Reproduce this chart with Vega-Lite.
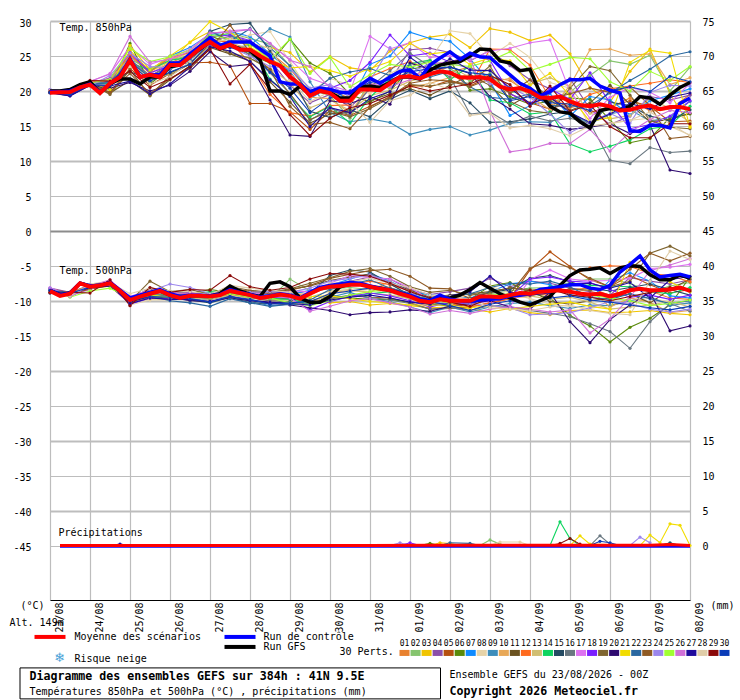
{"$schema":"https://vega.github.io/schema/vega-lite/v6.json","autosize":"none","width":640,"height":579,"padding":{"left":50,"top":21,"right":50,"bottom":100},"background":"white",
"config":{"view":{"stroke":null},"axis":{"labelFont":"DejaVu Sans Mono","labelFontSize":10,"labelColor":"#000"},"text":{"font":"DejaVu Sans Mono","fontSize":10,"align":"left","baseline":"middle","color":"#000"},"line":{"strokeWidth":1}},
"datasets":{
"m850":[
{"d":0,"01":19.9,"02":20,"03":19.8,"04":20.1,"05":19.8,"06":19.9,"07":20,"08":19.8,"09":20,"10":19.9,"11":20,"12":19.8,"13":19.9,"14":20.2,"15":19.8,"16":20,"17":20.2,"18":20.1,"19":19.9,"20":19.7,"21":20,"22":19.9,"23":19.8,"24":20.2,"25":20,"26":20.1,"27":19.8,"28":20,"29":19.9,"30":19.8},
{"d":0.5,"01":19.9,"02":20,"03":20.1,"04":19.7,"05":19.8,"06":20,"07":19.9,"08":20.2,"09":19.8,"10":20,"11":19.6,"12":19.9,"13":20.1,"14":19.8,"15":19.5,"16":19.8,"17":20,"18":19.4,"19":19.8,"20":19.3,"21":20,"22":19.7,"23":19.9,"24":20.1,"25":20.2,"26":19.9,"27":19.3,"28":20,"29":19.8,"30":19.5},
{"d":1,"01":20.9,"02":20.8,"03":21,"04":21.1,"05":20.7,"06":20.9,"07":21,"08":20.6,"09":20.9,"10":21,"11":20.8,"12":21.2,"13":20.7,"14":21,"15":20.8,"16":20.9,"17":21.3,"18":21,"19":21.1,"20":20.8,"21":21.2,"22":20.9,"23":21,"24":20.7,"25":21.1,"26":21.4,"27":20.8,"28":20.9,"29":21.5,"30":20.9},
{"d":1.5,"01":21.5,"02":21,"03":20.5,"04":21.2,"05":19.8,"06":20.2,"07":21.4,"08":20.8,"09":21,"10":21.6,"11":19.7,"12":21.8,"13":20.6,"14":21.1,"15":20.9,"16":21.3,"17":22.5,"18":21.8,"19":19.5,"20":20.4,"21":20.2,"22":21.2,"23":19.8,"24":22.2,"25":21.7,"26":22.4,"27":20.7,"28":20.9,"29":21.4,"30":20.8},
{"d":2,"01":25,"02":24.5,"03":25.8,"04":24.2,"05":23.2,"06":26.8,"07":24.9,"08":23.5,"09":24.3,"10":24.8,"11":21.5,"12":25.2,"13":23.9,"14":24,"15":22.8,"16":24.5,"17":26.3,"18":25.5,"19":23,"20":21.2,"21":26.5,"22":24.1,"23":22.5,"24":25.4,"25":26.1,"26":27.8,"27":21.4,"28":23.6,"29":22.8,"30":23.9},
{"d":2.5,"01":22.5,"02":23.2,"03":22.8,"04":22.1,"05":20.8,"06":21,"07":22.9,"08":22.3,"09":21.8,"10":23.1,"11":19.4,"12":22.7,"13":21.7,"14":23,"15":21.4,"16":22.2,"17":23.8,"18":22.6,"19":19.3,"20":20,"21":23,"22":22,"23":19.6,"24":23.5,"25":24.2,"26":24.1,"27":19.6,"28":21,"29":20.5,"30":21.5},
{"d":3,"01":24,"02":24.5,"03":24.2,"04":23.8,"05":22.5,"06":23.2,"07":25,"08":24.6,"09":23.5,"10":24.3,"11":21.6,"12":24.8,"13":22.4,"14":24.4,"15":22.6,"16":23.4,"17":24.7,"18":23.6,"19":22.2,"20":20.8,"21":25,"22":23.1,"23":21.8,"24":23.3,"25":24.9,"26":24.5,"27":21,"28":22,"29":21.7,"30":22.7},
{"d":3.5,"01":25.2,"02":25,"03":27,"04":24.9,"05":24,"06":25.4,"07":26.2,"08":25.3,"09":24.5,"10":25.6,"11":23.6,"12":25.5,"13":23.9,"14":24.8,"15":23.8,"16":24.1,"17":26,"18":24.7,"19":23.9,"20":22.8,"21":26.9,"22":24.4,"23":23.2,"24":25,"25":25.8,"26":25.7,"27":23.4,"28":24.2,"29":23.5,"30":23.8},
{"d":4,"01":26.7,"02":27.6,"03":28.5,"04":27.2,"05":24.1,"06":27.9,"07":28.1,"08":27.5,"09":27,"10":27.4,"11":26.2,"12":27.2,"13":26.5,"14":28,"15":28.5,"16":27.3,"17":28.2,"18":27.7,"19":26.7,"20":25.6,"21":29.9,"22":28.6,"23":26,"24":26.6,"25":28,"26":28.3,"27":26.3,"28":26.9,"29":26,"30":27.1},
{"d":4.5,"01":27.5,"02":28.3,"03":27.3,"04":27.8,"05":23.6,"06":26.8,"07":28.5,"08":27,"09":26.2,"10":26.9,"11":25.3,"12":27,"13":25.6,"14":28,"15":29.5,"16":26.4,"17":28.6,"18":28,"19":25.4,"20":23.5,"21":28.4,"22":27.1,"23":29.4,"24":26.3,"25":27.4,"26":28.4,"27":25.7,"28":27.4,"29":21,"30":26.2},
{"d":5,"01":27,"02":27.5,"03":26.5,"04":27.1,"05":18.2,"06":25.2,"07":27.8,"08":28,"09":26.5,"10":26,"11":24.3,"12":24,"13":24.6,"14":26.5,"15":29.7,"16":25.2,"17":28.8,"18":27.2,"19":24.7,"20":23.8,"21":26.3,"22":28.9,"23":25.5,"24":25,"25":26.7,"26":28.8,"27":24.2,"28":26.9,"29":23.8,"30":25.6},
{"d":5.5,"01":25.5,"02":26.7,"03":26.2,"04":24.4,"05":18.2,"06":24,"07":25.3,"08":28.5,"09":28.9,"10":24.8,"11":21.3,"12":19.5,"13":23.2,"14":21.7,"15":25.7,"16":22.6,"17":26.8,"18":24.9,"19":23.1,"20":18.7,"21":24.5,"22":26.2,"23":23.1,"24":23.5,"25":24.5,"26":26.8,"27":21.6,"28":26.1,"29":20.2,"30":22.7},
{"d":6,"01":23.2,"02":23.6,"03":25.5,"04":20.8,"05":17,"06":27.4,"07":22.8,"08":24.2,"09":27.7,"10":22.6,"11":18.4,"12":16.9,"13":21.2,"14":19.2,"15":22.4,"16":19.6,"17":24.5,"18":21.7,"19":19.6,"20":13.7,"21":23.3,"22":23.6,"23":17.8,"24":23.2,"25":27.4,"26":24.4,"27":19.2,"28":21.6,"29":16.6,"30":20.4},
{"d":6.5,"01":19.6,"02":20.2,"03":22.7,"04":18.3,"05":14.5,"06":24,"07":18.9,"08":19.8,"09":21.3,"10":19.1,"11":15.4,"12":16.4,"13":17.6,"14":16.3,"15":17.1,"16":15.8,"17":21.8,"18":19.9,"19":15.9,"20":13.5,"21":23.5,"22":19.5,"23":15.2,"24":20.4,"25":22.5,"26":23.5,"27":14.9,"28":18.5,"29":13.6,"30":16.9},
{"d":7,"01":20,"02":19.3,"03":24.9,"04":19.5,"05":17.2,"06":22.5,"07":20.6,"08":21.8,"09":16.9,"10":18.9,"11":16.7,"12":17.9,"13":18.7,"14":17.8,"15":16.2,"16":17.5,"17":20.8,"18":20.4,"19":17.1,"20":18.6,"21":22.9,"22":21.8,"23":15.5,"24":20.9,"25":24.8,"26":20.4,"27":17.6,"28":19.9,"29":16.1,"30":19},
{"d":7.5,"01":19,"02":16.1,"03":23.3,"04":17.7,"05":16.5,"06":19.5,"07":18.4,"08":20.8,"09":15.6,"10":16.8,"11":17,"12":18,"13":17.2,"14":15.4,"15":17.3,"16":16.6,"17":19.9,"18":21.5,"19":16.3,"20":18.2,"21":22.1,"22":22.7,"23":14.6,"24":19.1,"25":20.6,"26":19.5,"27":16.9,"28":18.4,"29":17.6,"30":20},
{"d":8,"01":20.4,"02":21.6,"03":22.9,"04":20.2,"05":17.8,"06":18.4,"07":23.8,"08":19.6,"09":16,"10":20.9,"11":18.6,"12":22,"13":19.3,"14":19.1,"15":16.3,"16":20.5,"17":27.8,"18":24.1,"19":17.5,"20":19.2,"21":23.2,"22":23.2,"23":17.7,"24":21.4,"25":22.3,"26":21,"27":18.9,"28":15.5,"29":18.2,"30":21.2},
{"d":8.5,"01":20.8,"02":20.3,"03":25.7,"04":21.4,"05":19.1,"06":20,"07":25,"08":22.5,"09":15.5,"10":21.7,"11":19.6,"12":23.2,"13":20.1,"14":21.7,"15":18.8,"16":22.9,"17":26,"18":28,"19":19,"20":18.1,"21":24.2,"22":22.2,"23":19.2,"24":26.2,"25":23.8,"26":20.6,"27":19.9,"28":18.6,"29":19.4,"30":21.6},
{"d":9,"01":22.5,"02":23.4,"03":26.9,"04":25.9,"05":20.8,"06":23.1,"07":28.4,"08":23.8,"09":13.8,"10":20.5,"11":20.3,"12":24.2,"13":21.4,"14":23.9,"15":20.1,"16":25.4,"17":26.9,"18":25,"19":20.9,"20":24,"21":26.8,"22":23.6,"23":21.1,"24":22.6,"25":23.4,"26":21.6,"27":24.8,"28":19.4,"29":20.7,"30":22.7},
{"d":9.5,"01":22.3,"02":24.3,"03":27.7,"04":26.1,"05":20.6,"06":23.6,"07":27.5,"08":24.5,"09":14.5,"10":21.1,"11":19.4,"12":22.9,"13":22.1,"14":24.4,"15":18.9,"16":23.5,"17":24.8,"18":25.4,"19":20.7,"20":23,"21":25.3,"22":22,"23":21.6,"24":23.9,"25":24.1,"26":23.8,"27":22.8,"28":21.2,"29":20,"30":23.2},
{"d":10,"01":22.7,"02":23.2,"03":28.1,"04":25.5,"05":21.5,"06":24.3,"07":27.1,"08":28.6,"09":14.9,"10":21.9,"11":20.8,"12":22.5,"13":23.6,"14":21.6,"15":20,"16":22,"17":25,"18":24.1,"19":21.2,"20":23.4,"21":25.6,"22":22.8,"23":21.4,"24":24,"25":23.8,"26":24.2,"27":24.6,"28":20.2,"29":20.5,"30":23.4},
{"d":10.5,"01":23.4,"02":21.4,"03":26.2,"04":24.3,"05":20.7,"06":20.1,"07":24.6,"08":28.2,"09":13.7,"10":22.3,"11":22.2,"12":20.7,"13":21.9,"14":23.6,"15":18.3,"16":16.7,"17":24.4,"18":25.1,"19":21.1,"20":22.5,"21":23.8,"22":20.6,"23":20.6,"24":23.2,"25":23.5,"26":24.8,"27":23,"28":16.5,"29":21,"30":22.6},
{"d":11,"01":22,"02":22.5,"03":28.9,"04":25.8,"05":22.1,"06":20.3,"07":21.3,"08":24.9,"09":14.4,"10":21.2,"11":20.8,"12":26,"13":23.1,"14":18.7,"15":15.5,"16":17,"17":25.7,"18":24.4,"19":23.6,"20":19.2,"21":24.7,"22":19.1,"23":21.7,"24":21,"25":24.3,"26":17.1,"27":22.9,"28":16.8,"29":22.2,"30":22.3},
{"d":11.5,"01":21.5,"02":19.7,"03":28.4,"04":23.6,"05":19.6,"06":19.2,"07":16.5,"08":26.8,"09":15.4,"10":21.8,"11":17.9,"12":25.9,"13":20.2,"14":18.3,"15":15.6,"16":15.3,"17":26.1,"18":19.6,"19":18.5,"20":17.4,"21":24.3,"22":18.8,"23":19.7,"24":20.5,"25":25.6,"26":11.3,"27":20.4,"28":14.7,"29":20.9,"30":18.6},
{"d":12,"01":19.6,"02":20.4,"03":27.2,"04":21.6,"05":18.3,"06":18.1,"07":17.9,"08":24.8,"09":15.6,"10":19.2,"11":19.5,"12":23.7,"13":21,"14":16.7,"15":16,"16":16.4,"17":26.9,"18":18.2,"19":17.2,"20":15.3,"21":20.8,"22":19.6,"23":21.6,"24":19.1,"25":22.9,"26":11.7,"27":18.2,"28":15.1,"29":17.8,"30":19.2},
{"d":12.5,"01":18.1,"02":18.9,"03":28,"04":20.3,"05":17.4,"06":18.5,"07":19.6,"08":21.2,"09":15.5,"10":17.3,"11":18.6,"12":19,"13":21.9,"14":17,"15":16.7,"16":15.7,"17":27.3,"18":20.3,"19":16.8,"20":15.1,"21":22.5,"22":17.9,"23":18.8,"24":16.7,"25":23.8,"26":12.5,"27":19.1,"28":14.6,"29":20.7,"30":18.3},
{"d":13,"01":17.6,"02":19.8,"03":25.3,"04":21.8,"05":18.4,"06":19,"07":16.4,"08":20.4,"09":16.9,"10":20.8,"11":17.2,"12":17.7,"13":20.6,"14":12.4,"15":17.1,"16":16.1,"17":19.9,"18":18.8,"19":20.4,"20":14.5,"21":19.3,"22":17.8,"23":19.6,"24":14,"25":24.8,"26":12.5,"27":16.9,"28":13.6,"29":17.1,"30":18.1},
{"d":13.5,"01":18.2,"02":22.2,"03":20.5,"04":17.4,"05":16.9,"06":18.8,"07":19.2,"08":14.9,"09":15.3,"10":25.9,"11":18.3,"12":19.5,"13":16.8,"14":11.3,"15":14.8,"16":15.4,"17":16.1,"18":22.6,"19":23.5,"20":14.8,"21":15.6,"22":17.9,"23":20.4,"24":15.6,"25":24.6,"26":14.5,"27":15.5,"28":15,"29":18,"30":17.2},
{"d":14,"01":17.6,"02":24.3,"03":18.4,"04":15.2,"05":17.8,"06":15.9,"07":18.7,"08":15.4,"09":16.7,"10":26,"11":20.8,"12":20.3,"13":16,"14":12.1,"15":18.4,"16":10.1,"17":19.1,"18":18.3,"19":22.9,"20":15.3,"21":16.2,"22":19.7,"23":19.8,"24":16.8,"25":21.3,"26":11.4,"27":16.7,"28":15.3,"29":14.9,"30":20},
{"d":14.5,"01":19,"02":23.8,"03":22.8,"04":16.4,"05":18.6,"06":12.6,"07":16.6,"08":15.8,"09":17.3,"10":25.1,"11":18.1,"12":20.7,"13":16.5,"14":13,"15":17.9,"16":9.6,"17":20.5,"18":14.6,"19":19.4,"20":13.9,"21":24.1,"22":21.5,"23":20.6,"24":15.4,"25":20,"26":14.1,"27":18.2,"28":15.8,"29":13.3,"30":20.6},
{"d":15,"01":17.1,"02":25.1,"03":26,"04":19.2,"05":17.8,"06":13.2,"07":18.6,"08":16.1,"09":15.7,"10":25.3,"11":15.6,"12":21.1,"13":18.9,"14":14.6,"15":16.4,"16":11.9,"17":19.8,"18":15.2,"19":15.8,"20":15.1,"21":25.8,"22":23.1,"23":17.9,"24":19.8,"25":22.8,"26":15.9,"27":17.4,"28":17,"29":13.3,"30":19.9},
{"d":15.5,"01":17.4,"02":20,"03":19.6,"04":18.7,"05":15.6,"06":16.2,"07":19.4,"08":14.9,"09":16.2,"10":20.9,"11":15.9,"12":21.6,"13":17.5,"14":15,"15":15.7,"16":11.2,"17":18.3,"18":16.4,"19":14.8,"20":8.7,"21":25.4,"22":25,"23":13.2,"24":20.8,"25":21.5,"26":17.2,"27":19.1,"28":15.3,"29":15.3,"30":22.1},
{"d":16,"01":19.5,"02":23.4,"03":15,"04":19.4,"05":15.7,"06":16.7,"07":20.3,"08":13.7,"09":18.5,"10":21.9,"11":16.8,"12":21.2,"13":15.5,"14":17.8,"15":17.3,"16":11.4,"17":21.1,"18":18.6,"19":14.6,"20":8.2,"21":14.8,"22":25.6,"23":13.5,"24":20.7,"25":23.5,"26":16.9,"27":19.7,"28":13.6,"29":15.3,"30":21.3}
],
"m500":[
{"d":0,"01":-8.7,"02":-8.5,"03":-8.4,"04":-8.2,"05":-8.8,"06":-8.6,"07":-8.4,"08":-8.9,"09":-8.6,"10":-8.5,"11":-8.7,"12":-8.3,"13":-8.8,"14":-8.5,"15":-8.6,"16":-8.7,"17":-8.1,"18":-8.3,"19":-8.6,"20":-8.9,"21":-8.5,"22":-8.4,"23":-8.8,"24":-8.2,"25":-8.5,"26":-8.4,"27":-8.6,"28":-8.7,"29":-8.8,"30":-8.5},
{"d":0.5,"01":-9,"02":-9.2,"03":-8.9,"04":-8.8,"05":-9,"06":-9.1,"07":-8.9,"08":-9.3,"09":-9,"10":-9.2,"11":-8.8,"12":-8.9,"13":-9.1,"14":-8.9,"15":-9.1,"16":-9,"17":-9.3,"18":-9.4,"19":-8.9,"20":-9.2,"21":-9,"22":-8.9,"23":-9.1,"24":-9.2,"25":-9.5,"26":-9.4,"27":-9,"28":-9.3,"29":-8.8,"30":-9},
{"d":1,"01":-8.1,"02":-7.9,"03":-8,"04":-7.8,"05":-8.3,"06":-8,"07":-8.2,"08":-7.6,"09":-8,"10":-7.9,"11":-8.3,"12":-7.8,"13":-8.1,"14":-8,"15":-8.2,"16":-7.9,"17":-8.4,"18":-7.9,"19":-8,"20":-8.1,"21":-7.8,"22":-8.1,"23":-8.3,"24":-7.7,"25":-8.6,"26":-7.9,"27":-8.1,"28":-7.8,"29":-8.9,"30":-8},
{"d":1.5,"01":-7.6,"02":-7.4,"03":-7.5,"04":-7.3,"05":-7.9,"06":-7.3,"07":-7.7,"08":-7.2,"09":-7.6,"10":-7.5,"11":-7.8,"12":-7.3,"13":-7.5,"14":-7.7,"15":-7.6,"16":-7.4,"17":-7.1,"18":-7.8,"19":-7.4,"20":-7.9,"21":-7.6,"22":-7.5,"23":-7.2,"24":-7.7,"25":-8.2,"26":-7,"27":-7.6,"28":-7.4,"29":-7,"30":-7.5},
{"d":2,"01":-9.8,"02":-9.6,"03":-10.1,"04":-9.5,"05":-10.4,"06":-9.7,"07":-10.1,"08":-10.6,"09":-9.9,"10":-9.6,"11":-9.8,"12":-10.2,"13":-10.3,"14":-9.7,"15":-10,"16":-9.5,"17":-9.4,"18":-10.5,"19":-10.1,"20":-10.2,"21":-9.7,"22":-9.9,"23":-10.6,"24":-10,"25":-9.6,"26":-9.8,"27":-10.4,"28":-9,"29":-10.7,"30":-10},
{"d":2.5,"01":-8.9,"02":-9.2,"03":-9.4,"04":-8.7,"05":-9.5,"06":-8.4,"07":-9.3,"08":-9.9,"09":-9.1,"10":-9.2,"11":-8.2,"12":-8.9,"13":-9.7,"14":-9,"15":-9.3,"16":-9.1,"17":-8.4,"18":-9.6,"19":-7.2,"20":-9.4,"21":-9.1,"22":-9.3,"23":-8.4,"24":-8.6,"25":-9.3,"26":-8.8,"27":-9.6,"28":-8.2,"29":-8.1,"30":-9.4},
{"d":3,"01":-9.1,"02":-9.4,"03":-9.7,"04":-9,"05":-9.6,"06":-8.7,"07":-9.5,"08":-9.9,"09":-9.3,"10":-9.4,"11":-9,"12":-9.2,"13":-9.8,"14":-9.1,"15":-9.6,"16":-9.3,"17":-8.8,"18":-9.7,"19":-8.7,"20":-9.5,"21":-9.6,"22":-10,"23":-9.1,"24":-7.6,"25":-9.5,"26":-9,"27":-9.8,"28":-8.6,"29":-8.8,"30":-9.5},
{"d":3.5,"01":-9,"02":-9.3,"03":-9.1,"04":-8.8,"05":-9.4,"06":-9,"07":-9.3,"08":-9.7,"09":-9.7,"10":-9.1,"11":-9.2,"12":-9.5,"13":-9.6,"14":-9.2,"15":-9.9,"16":-9.4,"17":-9,"18":-8.8,"19":-8.4,"20":-10,"21":-9.2,"22":-10.3,"23":-9,"24":-8.1,"25":-9.4,"26":-8.9,"27":-9.8,"28":-8.7,"29":-8.4,"30":-9.7},
{"d":4,"01":-9.2,"02":-9.5,"03":-9.4,"04":-9.1,"05":-9.8,"06":-8.4,"07":-9.6,"08":-10,"09":-9.8,"10":-9.3,"11":-9.4,"12":-9.6,"13":-9.8,"14":-8.7,"15":-10.3,"16":-9.7,"17":-9.3,"18":-9.2,"19":-9.1,"20":-10.1,"21":-9.5,"22":-10.8,"23":-9.3,"24":-9,"25":-9.6,"26":-9.2,"27":-10.1,"28":-9.1,"29":-8.5,"30":-10.2},
{"d":4.5,"01":-8.6,"02":-9,"03":-8.7,"04":-8.5,"05":-9.1,"06":-8.8,"07":-8.8,"08":-9.5,"09":-9.3,"10":-8.6,"11":-8.4,"12":-9,"13":-9.2,"14":-8.9,"15":-9.5,"16":-8.9,"17":-8.6,"18":-8.7,"19":-8,"20":-9.6,"21":-8.8,"22":-9.7,"23":-8.3,"24":-8.5,"25":-9,"26":-8.6,"27":-9.4,"28":-7.8,"29":-6.4,"30":-9.4},
{"d":5,"01":-9.1,"02":-9.4,"03":-9.2,"04":-9,"05":-9.6,"06":-9.3,"07":-9,"08":-9.8,"09":-10.1,"10":-9.1,"11":-8.8,"12":-9.3,"13":-9.6,"14":-9.4,"15":-10.3,"16":-9.5,"17":-8.9,"18":-9.4,"19":-8.5,"20":-10,"21":-9.2,"22":-10.3,"23":-8.6,"24":-8.8,"25":-9.5,"26":-9.1,"27":-9.9,"28":-8.2,"29":-8,"30":-9.8},
{"d":5.5,"01":-9.3,"02":-9.7,"03":-9.5,"04":-9.2,"05":-10,"06":-9.6,"07":-9.2,"08":-10.2,"09":-10.7,"10":-9.3,"11":-9,"12":-9.5,"13":-9.8,"14":-9.7,"15":-10.4,"16":-10,"17":-9,"18":-9.5,"19":-8.8,"20":-10.3,"21":-9.4,"22":-10.8,"23":-9,"24":-8.7,"25":-9.6,"26":-9.4,"27":-10.2,"28":-8.5,"29":-8.5,"30":-10.5},
{"d":6,"01":-9.1,"02":-6.9,"03":-9.4,"04":-9,"05":-10.1,"06":-9.7,"07":-9.1,"08":-10,"09":-10.5,"10":-9.5,"11":-8.4,"12":-9.2,"13":-9.9,"14":-9.8,"15":-10.1,"16":-10.2,"17":-8.6,"18":-9.6,"19":-8.3,"20":-10.6,"21":-9.2,"22":-10.5,"23":-8.5,"24":-8.8,"25":-10.3,"26":-9.6,"27":-10.4,"28":-8.8,"29":-8.1,"30":-10.3},
{"d":6.5,"01":-9,"02":-8.6,"03":-9.6,"04":-8.6,"05":-10.3,"06":-10.2,"07":-8.5,"08":-10.4,"09":-10.6,"10":-10.2,"11":-7.9,"12":-9.1,"13":-9.5,"14":-10.5,"15":-8.9,"16":-10.5,"17":-8.7,"18":-11.3,"19":-7.5,"20":-11,"21":-9.4,"22":-9.9,"23":-7.8,"24":-8.2,"25":-10.7,"26":-11.5,"27":-10.6,"28":-9.2,"29":-6.9,"30":-10.1},
{"d":7,"01":-7.7,"02":-8.3,"03":-10.3,"04":-7.9,"05":-9.7,"06":-9.2,"07":-7.8,"08":-9,"09":-9.5,"10":-8.9,"11":-7.1,"12":-8,"13":-8.6,"14":-10,"15":-6.4,"16":-9.7,"17":-7.5,"18":-10.1,"19":-6.7,"20":-11.4,"21":-9.3,"22":-8.4,"23":-6.8,"24":-7.2,"25":-10,"26":-10.8,"27":-9.9,"28":-7.5,"29":-6.1,"30":-9},
{"d":7.5,"01":-7.5,"02":-8.1,"03":-10.1,"04":-7.2,"05":-9.3,"06":-9.6,"07":-6.9,"08":-8.7,"09":-8.8,"10":-8.5,"11":-6.6,"12":-7.7,"13":-8.4,"14":-9.4,"15":-5.6,"16":-9.2,"17":-6.4,"18":-9.4,"19":-5.8,"20":-12,"21":-9.7,"22":-7.7,"23":-6.2,"24":-6.8,"25":-9.2,"26":-10,"27":-9.5,"28":-7.3,"29":-6.2,"30":-8.6},
{"d":8,"01":-7.8,"02":-8.4,"03":-10.6,"04":-6.6,"05":-9.5,"06":-9.8,"07":-6.1,"08":-8.4,"09":-9.7,"10":-8.8,"11":-6.2,"12":-7.2,"13":-8.9,"14":-9,"15":-5.9,"16":-9.5,"17":-6.7,"18":-8.9,"19":-5.4,"20":-11.7,"21":-10.1,"22":-7,"23":-5.7,"24":-6.3,"25":-8.7,"26":-9.7,"27":-9.2,"28":-6.8,"29":-6.5,"30":-8.2},
{"d":8.5,"01":-8.1,"02":-8.8,"03":-10.4,"04":-6.9,"05":-9.6,"06":-9.8,"07":-7.2,"08":-8.9,"09":-10.1,"10":-7.1,"11":-7.4,"12":-7.7,"13":-9.2,"14":-8.7,"15":-7.6,"16":-9.9,"17":-6.9,"18":-9.3,"19":-6.5,"20":-11.6,"21":-10.3,"22":-8.2,"23":-5.5,"24":-7.3,"25":-8.4,"26":-10.3,"27":-9.6,"28":-7.5,"29":-7.5,"30":-8.6},
{"d":9,"01":-9.1,"02":-9.8,"03":-10.7,"04":-8.4,"05":-10.3,"06":-10.2,"07":-8.6,"08":-9.5,"09":-10.9,"10":-9.7,"11":-8.5,"12":-8.6,"13":-9.7,"14":-9.3,"15":-9.2,"16":-10.4,"17":-8.1,"18":-10,"19":-8,"20":-11.3,"21":-10.6,"22":-8.9,"23":-6.5,"24":-8.8,"25":-9.1,"26":-10.9,"27":-10.2,"28":-8.1,"29":-8.7,"30":-9.2},
{"d":9.5,"01":-10,"02":-10.5,"03":-11,"04":-9.1,"05":-11.2,"06":-10.4,"07":-9.2,"08":-10.2,"09":-11.7,"10":-10.6,"11":-9.5,"12":-9.8,"13":-10.6,"14":-9.7,"15":-10.6,"16":-11.2,"17":-9.9,"18":-10.9,"19":-8.8,"20":-11.5,"21":-10.6,"22":-9.6,"23":-8.2,"24":-10.3,"25":-9.9,"26":-11.9,"27":-10.5,"28":-9.2,"29":-9.6,"30":-10.1},
{"d":10,"01":-9.9,"02":-10.2,"03":-10.9,"04":-8.7,"05":-11.1,"06":-10.8,"07":-9.3,"08":-9.7,"09":-10.9,"10":-10.3,"11":-9.2,"12":-10.4,"13":-10.4,"14":-9.9,"15":-10.3,"16":-11,"17":-9.6,"18":-10.2,"19":-8.5,"20":-10.8,"21":-10.6,"22":-9.4,"23":-8.3,"24":-10.1,"25":-10.3,"26":-11.4,"27":-9.3,"28":-9.4,"29":-10.2,"30":-10.7},
{"d":10.5,"01":-10.1,"02":-10.3,"03":-11.2,"04":-8.2,"05":-10.9,"06":-9.8,"07":-9.6,"08":-9.3,"09":-11.6,"10":-10.6,"11":-9,"12":-10.9,"13":-10.2,"14":-10.4,"15":-9.7,"16":-11.4,"17":-10.3,"18":-10.5,"19":-9.2,"20":-10.4,"21":-11,"22":-9,"23":-9.7,"24":-10.4,"25":-9.8,"26":-11.8,"27":-8.7,"28":-9.8,"29":-10.8,"30":-11.4},
{"d":11,"01":-9.3,"02":-9,"03":-11.6,"04":-6.8,"05":-10.3,"06":-7.9,"07":-8.7,"08":-7.9,"09":-10.9,"10":-9.9,"11":-8.7,"12":-10.3,"13":-9.2,"14":-9.7,"15":-8.8,"16":-10.7,"17":-10.1,"18":-9.8,"19":-8.9,"20":-10,"21":-10.7,"22":-8.1,"23":-9.6,"24":-10.7,"25":-9.2,"26":-11.2,"27":-6.5,"28":-11,"29":-9.6,"30":-10.5},
{"d":11.5,"01":-9,"02":-8.6,"03":-11.1,"04":-8,"05":-9.7,"06":-7.4,"07":-7.6,"08":-8.9,"09":-10.4,"10":-9.6,"11":-8.2,"12":-9.7,"13":-9.4,"14":-9.3,"15":-8.4,"16":-10.9,"17":-10.8,"18":-9.4,"19":-8.1,"20":-10.9,"21":-11.2,"22":-7.5,"23":-9,"24":-11,"25":-9,"26":-10.9,"27":-8.8,"28":-11.2,"29":-9.3,"30":-10},
{"d":12,"01":-8.9,"02":-8.2,"03":-11.7,"04":-7.2,"05":-5.6,"06":-8.9,"07":-7.2,"08":-9.7,"09":-10.2,"10":-9.4,"11":-8.4,"12":-9,"13":-9.3,"14":-8.8,"15":-6.8,"16":-11.4,"17":-7,"18":-6.9,"19":-8.6,"20":-11.2,"21":-10.8,"22":-7.6,"23":-5.4,"24":-12,"25":-8.6,"26":-11.2,"27":-9.2,"28":-11.4,"29":-8.5,"30":-10.4},
{"d":12.5,"01":-8.6,"02":-8.1,"03":-12,"04":-7.5,"05":-3,"06":-9.6,"07":-7.7,"08":-10.5,"09":-10.7,"10":-8.5,"11":-10.1,"12":-9.2,"13":-9.8,"14":-8,"15":-6.4,"16":-11.8,"17":-5.6,"18":-6.6,"19":-8.9,"20":-8.8,"21":-10.5,"22":-7.2,"23":-4.2,"24":-11.9,"25":-8.3,"26":-11.6,"27":-8.9,"28":-10.9,"29":-8.3,"30":-9.6},
{"d":13,"01":-8.4,"02":-7.4,"03":-11.4,"04":-8.2,"05":-5.1,"06":-12.1,"07":-9.1,"08":-10.8,"09":-11.1,"10":-8.9,"11":-10.5,"12":-6.4,"13":-9.5,"14":-7.6,"15":-7.3,"16":-12.3,"17":-6.9,"18":-7.2,"19":-8.3,"20":-13,"21":-10.2,"22":-8,"23":-5.3,"24":-11.7,"25":-8.8,"26":-11.3,"27":-7.6,"28":-10.6,"29":-9.2,"30":-9.3},
{"d":13.5,"01":-8.2,"02":-6.9,"03":-11.3,"04":-8.7,"05":-7,"06":-13.6,"07":-9.7,"08":-11.1,"09":-10.6,"10":-8.4,"11":-10,"12":-5.3,"13":-10.2,"14":-7.8,"15":-8.2,"16":-13.3,"17":-7.2,"18":-7.4,"19":-8.5,"20":-16,"21":-10.8,"22":-9.5,"23":-6.8,"24":-11,"25":-9.2,"26":-14.6,"27":-7.5,"28":-11.4,"29":-9.5,"30":-9.9},
{"d":14,"01":-9.2,"02":-6.9,"03":-11.7,"04":-9.2,"05":-8,"06":-15.9,"07":-7.1,"08":-10.6,"09":-10.7,"10":-10.9,"11":-9.6,"12":-5,"13":-11.2,"14":-7.9,"15":-8.6,"16":-14.4,"17":-7.1,"18":-8.4,"19":-8,"20":-12.7,"21":-11.2,"22":-9.8,"23":-8,"24":-10.1,"25":-9.6,"26":-12.6,"27":-8.2,"28":-11.8,"29":-10,"30":-10.2},
{"d":14.5,"01":-8.4,"02":-7.5,"03":-11.6,"04":-6.7,"05":-6.4,"06":-13.8,"07":-6,"08":-10.3,"09":-10,"10":-9.6,"11":-9,"12":-5.1,"13":-10.9,"14":-8,"15":-8.1,"16":-16.8,"17":-6.8,"18":-9.5,"19":-7.2,"20":-10.6,"21":-4.5,"22":-9,"23":-5.5,"24":-10.4,"25":-10,"26":-9.5,"27":-7.4,"28":-12,"29":-9.4,"30":-10.6},
{"d":15,"01":-8.6,"02":-8.8,"03":-11.4,"04":-7.2,"05":-7.7,"06":-12.5,"07":-7.2,"08":-9.6,"09":-9.4,"10":-10.2,"11":-10.3,"12":-6.1,"13":-10.6,"14":-8.7,"15":-7.6,"16":-13,"17":-5.4,"18":-9.2,"19":-3.2,"20":-8.8,"21":-6.2,"22":-9.7,"23":-3.2,"24":-11.2,"25":-10.7,"26":-5.7,"27":-9.6,"28":-7.2,"29":-8.8,"30":-11},
{"d":15.5,"01":-9.6,"02":-7.9,"03":-11.8,"04":-7.6,"05":-8.9,"06":-10.6,"07":-9.3,"08":-10.2,"09":-10.7,"10":-11.7,"11":-8.4,"12":-6.4,"13":-10.1,"14":-9,"15":-8.4,"16":-10.4,"17":-5.2,"18":-9.8,"19":-2.2,"20":-14.3,"21":-7.3,"22":-10.4,"23":-4.3,"24":-11.6,"25":-10.4,"26":-4.9,"27":-7,"28":-2.9,"29":-8.1,"30":-11.3},
{"d":16,"01":-9.8,"02":-7.4,"03":-12,"04":-7,"05":-8.4,"06":-6.6,"07":-9.6,"08":-10.5,"09":-10.3,"10":-11.4,"11":-6.9,"12":-7.3,"13":-10.9,"14":-8.1,"15":-9.2,"16":-11.5,"17":-4.8,"18":-9.2,"19":-3.6,"20":-13.6,"21":-8.7,"22":-10,"23":-3.2,"24":-11.2,"25":-9.9,"26":-4,"27":-6.5,"28":-4.1,"29":-8.6,"30":-10.8}
],
"r850":[
{"d":0,"mean":19.75,"control":19.9,"gfs":20},{"d":0.25,"mean":19.8,"control":19.9,"gfs":20},{"d":0.5,"mean":19.85,"control":20,"gfs":20.2},{"d":0.75,"mean":20.5,"control":20.5,"gfs":20.9},{"d":1,"mean":20.9,"control":21,"gfs":21.3},{"d":1.25,"mean":19.7,"control":19.8,"gfs":19.7},{"d":1.5,"mean":21.1,"control":21,"gfs":21},{"d":1.75,"mean":22,"control":22.2,"gfs":21.7},{"d":2,"mean":24.4,"control":24.6,"gfs":21.7},{"d":2.25,"mean":22,"control":22,"gfs":21},{"d":2.5,"mean":22.3,"control":22.3,"gfs":22},{"d":2.75,"mean":22,"control":22.3,"gfs":22},{"d":3,"mean":23.7,"control":24,"gfs":23.5},{"d":3.25,"mean":23.7,"control":24,"gfs":23.7},{"d":3.5,"mean":24.9,"control":25.3,"gfs":25},{"d":3.75,"mean":26.1,"control":26.4,"gfs":26},{"d":4,"mean":27,"control":27.6,"gfs":27},{"d":4.25,"mean":26.1,"control":26.5,"gfs":26},{"d":4.5,"mean":26.6,"control":27,"gfs":26.6},{"d":4.75,"mean":25.9,"control":27,"gfs":26},{"d":5,"mean":25.9,"control":27,"gfs":25.8},{"d":5.25,"mean":25,"control":26,"gfs":24.5},{"d":5.5,"mean":24.2,"control":25,"gfs":20},{"d":5.75,"mean":23.6,"control":21.3,"gfs":20},{"d":6,"mean":22,"control":21,"gfs":19.5},{"d":6.25,"mean":20.9,"control":21,"gfs":20.7},{"d":6.5,"mean":19.3,"control":19.9,"gfs":19.5},{"d":6.75,"mean":20,"control":20.4,"gfs":20},{"d":7,"mean":19.7,"control":20.2,"gfs":19.8},{"d":7.25,"mean":18.6,"control":19.8,"gfs":19},{"d":7.5,"mean":18.6,"control":19.7,"gfs":19},{"d":7.75,"mean":20.2,"control":20.8,"gfs":20.5},{"d":8,"mean":20.2,"control":21.8,"gfs":20.7},{"d":8.25,"mean":20.1,"control":21.1,"gfs":20.5},{"d":8.5,"mean":21.1,"control":22,"gfs":21.2},{"d":8.75,"mean":22,"control":22.8,"gfs":22},{"d":9,"mean":22.1,"control":23,"gfs":22},{"d":9.25,"mean":21.8,"control":21.8,"gfs":21.7},{"d":9.5,"mean":22.4,"control":23.7,"gfs":23},{"d":9.75,"mean":22.8,"control":24.7,"gfs":23.7},{"d":10,"mean":22.6,"control":25.6,"gfs":24},{"d":10.25,"mean":21.95,"control":24.5,"gfs":24.2},{"d":10.5,"mean":21.9,"control":25.4,"gfs":25},{"d":10.75,"mean":22,"control":24.9,"gfs":26},{"d":11,"mean":21.7,"control":24.8,"gfs":25.9},{"d":11.25,"mean":20.6,"control":23.5,"gfs":24.3},{"d":11.5,"mean":20.2,"control":22.3,"gfs":24},{"d":11.75,"mean":20.4,"control":21.1,"gfs":22.9},{"d":12,"mean":19.9,"control":20.4,"gfs":23.1},{"d":12.25,"mean":19.05,"control":19.3,"gfs":19.7},{"d":12.5,"mean":19,"control":19.9,"gfs":17.8},{"d":12.75,"mean":19.2,"control":20.9,"gfs":17},{"d":13,"mean":18.5,"control":21.6,"gfs":16.8},{"d":13.25,"mean":18,"control":21.6,"gfs":15.6},{"d":13.5,"mean":17.8,"control":21.8,"gfs":14.7},{"d":13.75,"mean":18.1,"control":20.7,"gfs":17.2},{"d":14,"mean":17.8,"control":20.1,"gfs":17.5},{"d":14.25,"mean":17.2,"control":19.7,"gfs":17.3},{"d":14.5,"mean":17.3,"control":14.3,"gfs":17.8},{"d":14.75,"mean":17.7,"control":14.2,"gfs":19.2},{"d":15,"mean":17.9,"control":15.1,"gfs":19},{"d":15.25,"mean":17.4,"control":15.1,"gfs":18.1},{"d":15.5,"mean":17.7,"control":14.7,"gfs":19.4},{"d":15.75,"mean":17.7,"control":18.2,"gfs":20.5},{"d":16,"mean":17.4,"control":19,"gfs":21.2}
],
"r500":[
{"d":0,"mean":-8.6,"control":-8.5,"gfs":-8.5},{"d":0.25,"mean":-9.3,"control":-9.2,"gfs":-9.2},{"d":0.5,"mean":-9,"control":-8.9,"gfs":-8.9},{"d":0.75,"mean":-7.5,"control":-7.5,"gfs":-7.5},{"d":1,"mean":-8,"control":-7.9,"gfs":-7.9},{"d":1.25,"mean":-7.8,"control":-7.8,"gfs":-7.8},{"d":1.5,"mean":-7.5,"control":-7.4,"gfs":-7.4},{"d":1.75,"mean":-8.6,"control":-8.5,"gfs":-8.6},{"d":2,"mean":-9.9,"control":-9.6,"gfs":-9.8},{"d":2.25,"mean":-9.4,"control":-9.2,"gfs":-9.3},{"d":2.5,"mean":-9,"control":-8.8,"gfs":-8.9},{"d":2.75,"mean":-8.6,"control":-8.4,"gfs":-8.6},{"d":3,"mean":-9.2,"control":-9,"gfs":-9.2},{"d":3.25,"mean":-9.6,"control":-9.4,"gfs":-9.5},{"d":3.5,"mean":-9.3,"control":-9.2,"gfs":-9.3},{"d":3.75,"mean":-9.3,"control":-9.2,"gfs":-9.3},{"d":4,"mean":-9.4,"control":-9.3,"gfs":-9.3},{"d":4.25,"mean":-9.2,"control":-9.1,"gfs":-9},{"d":4.5,"mean":-8.6,"control":-8.4,"gfs":-7.9},{"d":4.75,"mean":-8.9,"control":-8.8,"gfs":-8.6},{"d":5,"mean":-9.2,"control":-9.1,"gfs":-9.1},{"d":5.25,"mean":-9.6,"control":-9.5,"gfs":-9.4},{"d":5.5,"mean":-9.4,"control":-9.3,"gfs":-7.5},{"d":5.75,"mean":-9.1,"control":-9,"gfs":-7.3},{"d":6,"mean":-9.3,"control":-9.2,"gfs":-8},{"d":6.25,"mean":-9.7,"control":-9.6,"gfs":-9.6},{"d":6.5,"mean":-9,"control":-8.8,"gfs":-10.2},{"d":6.75,"mean":-8.3,"control":-8.1,"gfs":-10.2},{"d":7,"mean":-8,"control":-7.8,"gfs":-9.4},{"d":7.25,"mean":-7.9,"control":-7.6,"gfs":-8},{"d":7.5,"mean":-7.7,"control":-7.4,"gfs":-7.6},{"d":7.75,"mean":-7.7,"control":-7.5,"gfs":-7.6},{"d":8,"mean":-8,"control":-7.9,"gfs":-8},{"d":8.25,"mean":-8.3,"control":-8.2,"gfs":-8.2},{"d":8.5,"mean":-8.5,"control":-8.5,"gfs":-8.5},{"d":8.75,"mean":-9,"control":-8.9,"gfs":-8.9},{"d":9,"mean":-9.4,"control":-9.2,"gfs":-9.3},{"d":9.25,"mean":-10,"control":-9.7,"gfs":-9.9},{"d":9.5,"mean":-10.2,"control":-10,"gfs":-10},{"d":9.75,"mean":-9.8,"control":-9.2,"gfs":-9.6},{"d":10,"mean":-10,"control":-9.8,"gfs":-9.6},{"d":10.25,"mean":-10,"control":-10,"gfs":-9.2},{"d":10.5,"mean":-10,"control":-10.1,"gfs":-8.4},{"d":10.75,"mean":-9.4,"control":-9.9,"gfs":-7.4},{"d":11,"mean":-9.4,"control":-9.8,"gfs":-8.2},{"d":11.25,"mean":-9.5,"control":-9.7,"gfs":-9},{"d":11.5,"mean":-9.2,"control":-9.3,"gfs":-9.6},{"d":11.75,"mean":-8.9,"control":-9.2,"gfs":-10.2},{"d":12,"mean":-9,"control":-9,"gfs":-10.6},{"d":12.25,"mean":-8.7,"control":-8.4,"gfs":-10},{"d":12.5,"mean":-8.6,"control":-8.2,"gfs":-9.4},{"d":12.75,"mean":-8.5,"control":-8,"gfs":-7.8},{"d":13,"mean":-8.7,"control":-7.7,"gfs":-6.4},{"d":13.25,"mean":-9,"control":-7.7,"gfs":-5.6},{"d":13.5,"mean":-9.1,"control":-8.2,"gfs":-5.5},{"d":13.75,"mean":-9,"control":-8.4,"gfs":-5.3},{"d":14,"mean":-9.4,"control":-7.8,"gfs":-6.1},{"d":14.25,"mean":-9,"control":-5.9,"gfs":-5.3},{"d":14.5,"mean":-8.5,"control":-4.8,"gfs":-5},{"d":14.75,"mean":-8.3,"control":-3.6,"gfs":-5.1},{"d":15,"mean":-8.5,"control":-5.6,"gfs":-6.3},{"d":15.25,"mean":-8.5,"control":-6.6,"gfs":-7},{"d":15.5,"mean":-8.4,"control":-6.4,"gfs":-7},{"d":15.75,"mean":-8.1,"control":-6.2,"gfs":-6.3},{"d":16,"mean":-8.6,"control":-6.6,"gfs":-6.8}
],
"rain":[
{"d":12.5,"m":"14","v":-45},{"d":12.75,"m":"14","v":-41.6},{"d":13,"m":"14","v":-44},{"d":13.25,"m":"14","v":-45},
{"d":13,"m":"21","v":-45},{"d":13.25,"m":"21","v":-43.6},{"d":13.5,"m":"21","v":-44.8},{"d":14.75,"m":"21","v":-45},{"d":15,"m":"21","v":-43.5},{"d":15.25,"m":"21","v":-44.6},{"d":15.5,"m":"21","v":-41.9},{"d":15.75,"m":"21","v":-42.1},{"d":16,"m":"21","v":-45},
{"d":13.5,"m":"16","v":-45},{"d":13.75,"m":"16","v":-43.6},{"d":14,"m":"16","v":-44.8},
{"d":8.5,"m":"24","v":-45},{"d":8.75,"m":"24","v":-44.6},{"d":9,"m":"24","v":-45},{"d":14.5,"m":"24","v":-45},{"d":14.75,"m":"24","v":-43.8},{"d":15,"m":"24","v":-44.6},
{"d":8.75,"m":"18","v":-45},{"d":9,"m":"18","v":-44.6},{"d":9.25,"m":"18","v":-45},
{"d":12.5,"m":"29","v":-45},{"d":12.75,"m":"29","v":-44.7},{"d":13,"m":"29","v":-44},{"d":13.25,"m":"29","v":-44.8},
{"d":10.75,"m":"02","v":-45},{"d":11,"m":"02","v":-44.2},{"d":11.25,"m":"02","v":-44.8},
{"d":11,"m":"08","v":-45},{"d":11.25,"m":"08","v":-44.5},{"d":11.75,"m":"08","v":-44.5},{"d":12,"m":"08","v":-45},
{"d":9.25,"m":"06","v":-45},{"d":9.5,"m":"06","v":-44.7},{"d":9.75,"m":"06","v":-45},
{"d":9.5,"m":"03","v":-45},{"d":9.75,"m":"03","v":-44.6},{"d":10,"m":"03","v":-44.7},{"d":10.25,"m":"03","v":-45},
{"d":9.75,"m":"22","v":-45},{"d":10,"m":"22","v":-44.6},{"d":10.5,"m":"22","v":-44.7},{"d":10.75,"m":"22","v":-45},
{"d":15.25,"m":"15","v":-45},{"d":15.5,"m":"15","v":-44.6},{"d":15.75,"m":"15","v":-45},
{"d":13.5,"m":"30","v":-45},{"d":13.75,"m":"30","v":-44.4},{"d":14,"m":"30","v":-44.6},{"d":14.25,"m":"30","v":-45},
{"d":1.5,"m":"27","v":-45},{"d":1.75,"m":"27","v":-44.8},{"d":2,"m":"27","v":-45}
],
"rainRuns":[
{"d":0.25,"mean":-45,"control":-45.1},{"d":2,"mean":-45,"control":-45.1},{"d":4,"mean":-45,"control":-45.1},{"d":6,"mean":-45,"control":-45.1},{"d":8,"mean":-45,"control":-45.1},{"d":9.5,"mean":-44.95,"control":-45.1},{"d":11,"mean":-44.95,"control":-45.1},{"d":13,"mean":-44.95,"control":-45.1},{"d":15,"mean":-44.95,"control":-45.1},{"d":15.5,"mean":-44.85,"control":-45.1},{"d":16,"mean":-45,"control":-45.1}
],
"members":[{"m":"01"},{"m":"02"},{"m":"03"},{"m":"04"},{"m":"05"},{"m":"06"},{"m":"07"},{"m":"08"},{"m":"09"},{"m":"10"},{"m":"11"},{"m":"12"},{"m":"13"},{"m":"14"},{"m":"15"},{"m":"16"},{"m":"17"},{"m":"18"},{"m":"19"},{"m":"20"},{"m":"21"},{"m":"22"},{"m":"23"},{"m":"24"},{"m":"25"},{"m":"26"},{"m":"27"},{"m":"28"},{"m":"29"},{"m":"30"}]
},
"layer":[
{"resolve":{"axis":{"y":"independent","x":"independent"}},"layer":[
{"data":{"name":"m850"},"transform":[{"fold":["01","02","03","04","05","06","07","08","09","10","11","12","13","14","15","16","17","18","19","20","21","22","23","24","25","26","27","28","29","30"],"as":["m","v"]}],
"mark":{"type":"line","strokeWidth":1.1,"point":{"filled":true,"size":10}},
"encoding":{"x":{"field":"d","type":"quantitative","scale":{"domain":[0,16],"nice":false,"zero":false},"axis":{"title":null,"grid":true,"gridColor":"#bdbdbd","gridWidth":1.2,"values":[0,1,2,3,4,5,6,7,8,9,10,11,12,13,14,15,16],"ticks":false,"domain":true,"domainColor":"#000","domainWidth":1,"labelAngle":270,"labelAlign":"right","labelBaseline":"alphabetic","labelOffset":12,"labelPadding":2,"labelOverlap":false,"labelFlush":false,"labelBound":false,"labelExpr":"['23/08','24/08','25/08','26/08','27/08','28/08','29/08','30/08','31/08','01/09','02/09','03/09','04/09','05/09','06/09','07/09','08/09'][datum.value]"}},
"y":{"field":"v","type":"quantitative","scale":{"domain":[-52.79,30],"nice":false,"zero":false},"axis":{"title":null,"orient":"left","grid":true,"gridColor":{"condition":{"test":"datum.value===0","value":"#8c8c8c"},"value":"#bdbdbd"},"gridWidth":{"condition":{"test":"datum.value%10===0","value":2},"value":1},"values":[30,25,20,15,10,5,0,-5,-10,-15,-20,-25,-30,-35,-40,-45],"ticks":false,"domain":false,"labelPadding":19,"labelOffset":2,"labelExpr":"''+datum.value"}},
"color":{"field":"m","type":"nominal","legend":null,"scale":{"domain":["01","02","03","04","05","06","07","08","09","10","11","12","13","14","15","16","17","18","19","20","21","22","23","24","25","26","27","28","29","30"],"range":["#E8812E","#85C46E","#F0C400","#8B4FA8","#B5500F","#5A8A0A","#0F8BFF","#E6D3A8","#3C8DBB","#E8A857","#6B5320","#FF6A1E","#D1BE72","#0ED45F","#254B63","#697780","#DD72F0","#7A1FFF","#7F6530","#2E0A70","#F2DC00","#2A68A0","#8F5A24","#9C86EC","#A0FF33","#D070D8","#1E0A9C","#E0CDA8","#8A0808","#0A3CB8"]}}}},
{"data":{"name":"m500"},"transform":[{"fold":["01","02","03","04","05","06","07","08","09","10","11","12","13","14","15","16","17","18","19","20","21","22","23","24","25","26","27","28","29","30"],"as":["m","v"]}],
"mark":{"type":"line","strokeWidth":1.1,"point":{"filled":true,"size":10}},
"encoding":{"x":{"field":"d","type":"quantitative","axis":null},"y":{"field":"v","type":"quantitative","axis":{"title":null,"orient":"right","grid":false,"values":[30,25,20,15,10,5,0,-5,-10,-15,-20,-25,-30,-35,-40,-45],"ticks":false,"domain":false,"labelPadding":12,"labelOffset":1,"labelExpr":"''+(datum.value+45)"}},"color":{"field":"m","type":"nominal","legend":null}}},
{"data":{"name":"rain"},"mark":{"type":"line","strokeWidth":1.1,"point":{"filled":true,"size":10}},"encoding":{"x":{"field":"d","type":"quantitative","axis":null},"y":{"field":"v","type":"quantitative","axis":null},"color":{"field":"m","type":"nominal","legend":null}}},
{"data":{"name":"r850"},"mark":{"type":"line","strokeWidth":3.5,"color":"#000"},"encoding":{"x":{"field":"d","type":"quantitative","axis":null},"y":{"field":"gfs","type":"quantitative","axis":null}}},
{"data":{"name":"r500"},"mark":{"type":"line","strokeWidth":3.5,"color":"#000"},"encoding":{"x":{"field":"d","type":"quantitative","axis":null},"y":{"field":"gfs","type":"quantitative","axis":null}}},
{"data":{"name":"r850"},"mark":{"type":"line","strokeWidth":3.5,"color":"#0000ff"},"encoding":{"x":{"field":"d","type":"quantitative","axis":null},"y":{"field":"control","type":"quantitative","axis":null}}},
{"data":{"name":"r500"},"mark":{"type":"line","strokeWidth":3.5,"color":"#0000ff"},"encoding":{"x":{"field":"d","type":"quantitative","axis":null},"y":{"field":"control","type":"quantitative","axis":null}}},
{"data":{"name":"rainRuns"},"mark":{"type":"line","strokeWidth":3,"color":"#0000ff"},"encoding":{"x":{"field":"d","type":"quantitative","axis":null},"y":{"field":"control","type":"quantitative","axis":null}}},
{"data":{"name":"r850"},"mark":{"type":"line","strokeWidth":4,"color":"#ff0000"},"encoding":{"x":{"field":"d","type":"quantitative","axis":null},"y":{"field":"mean","type":"quantitative","axis":null}}},
{"data":{"name":"r500"},"mark":{"type":"line","strokeWidth":4,"color":"#ff0000"},"encoding":{"x":{"field":"d","type":"quantitative","axis":null},"y":{"field":"mean","type":"quantitative","axis":null}}},
{"data":{"name":"rainRuns"},"mark":{"type":"line","strokeWidth":3,"color":"#ff0000"},"encoding":{"x":{"field":"d","type":"quantitative","axis":null},"y":{"field":"mean","type":"quantitative","axis":null}}},
{"data":{"values":[{"t":"Temp. 850hPa"}]},"mark":"text","encoding":{"x":{"datum":0.2375,"type":"quantitative","axis":null},"y":{"datum":28.93,"type":"quantitative","axis":null},"text":{"field":"t"}}},
{"data":{"values":[{"t":"Temp. 500hPa"}]},"mark":"text","encoding":{"x":{"datum":0.2375,"type":"quantitative","axis":null},"y":{"datum":-5.71,"type":"quantitative","axis":null},"text":{"field":"t"}}},
{"data":{"values":[{"t":"Précipitations"}]},"mark":"text","encoding":{"x":{"datum":0.2125,"type":"quantitative","axis":null},"y":{"datum":-43.2,"type":"quantitative","axis":null},"text":{"field":"t"}}},
{"data":{"values":[{"t":"(°C)"}]},"mark":"text","encoding":{"x":{"datum":-0.7375,"type":"quantitative","axis":null},"y":{"datum":-53.64,"type":"quantitative","axis":null},"text":{"field":"t"}}},
{"data":{"values":[{"t":"(mm)"}]},"mark":"text","encoding":{"x":{"datum":16.51,"type":"quantitative","axis":null},"y":{"datum":-53.64,"type":"quantitative","axis":null},"text":{"field":"t"}}},
{"data":{"values":[{"t":"Alt. 149m"}]},"mark":"text","encoding":{"x":{"datum":-1.0125,"type":"quantitative","axis":null},"y":{"datum":-56.07,"type":"quantitative","axis":null},"text":{"field":"t"}}},
{"data":{"values":[{"t":"Moyenne des scénarios"}]},"mark":"text","encoding":{"x":{"datum":0.6125,"type":"quantitative","axis":null},"y":{"datum":-58.07,"type":"quantitative","axis":null},"text":{"field":"t"}}},
{"data":{"values":[{"t":"Run de contrôle"}]},"mark":"text","encoding":{"x":{"datum":5.3375,"type":"quantitative","axis":null},"y":{"datum":-58.07,"type":"quantitative","axis":null},"text":{"field":"t"}}},
{"data":{"values":[{"t":"Run GFS"}]},"mark":"text","encoding":{"x":{"datum":5.3375,"type":"quantitative","axis":null},"y":{"datum":-59.5,"type":"quantitative","axis":null},"text":{"field":"t"}}},
{"data":{"values":[{"t":"30 Perts."}]},"mark":"text","encoding":{"x":{"datum":7.2375,"type":"quantitative","axis":null},"y":{"datum":-60.21,"type":"quantitative","axis":null},"text":{"field":"t"}}},
{"data":{"values":[{"t":"Risque neige"}]},"mark":"text","encoding":{"x":{"datum":0.6125,"type":"quantitative","axis":null},"y":{"datum":-61.2,"type":"quantitative","axis":null},"text":{"field":"t"}}},
{"data":{"values":[{"t":"❄"}]},"mark":{"type":"text","align":"center","color":"#4aa3d8","font":"DejaVu Sans","fontSize":13},"encoding":{"x":{"datum":0.2375,"type":"quantitative","axis":null},"y":{"datum":-61.07,"type":"quantitative","axis":null},"text":{"field":"t"}}},
{"data":{"values":[{"t":"Moyenne"}]},"mark":{"type":"rule","color":"#ff0000","strokeWidth":4},"encoding":{"x":{"datum":-0.3875,"type":"quantitative","axis":null},"x2":{"datum":0.3875},"y":{"datum":-58.07,"type":"quantitative","axis":null}}},
{"data":{"values":[{"t":"Controle"}]},"mark":{"type":"rule","color":"#0000ff","strokeWidth":4},"encoding":{"x":{"datum":4.3625,"type":"quantitative","axis":null},"x2":{"datum":5.1375},"y":{"datum":-58.07,"type":"quantitative","axis":null}}},
{"data":{"values":[{"t":"GFS"}]},"mark":{"type":"rule","color":"#000000","strokeWidth":4},"encoding":{"x":{"datum":4.3625,"type":"quantitative","axis":null},"x2":{"datum":5.1375},"y":{"datum":-59.5,"type":"quantitative","axis":null}}},
{"data":{"values":[{"t":"box"}]},"mark":{"type":"rect","fill":"#fff","stroke":"#000","strokeWidth":1},"encoding":{"x":{"datum":-0.75,"type":"quantitative","axis":null},"x2":{"datum":9.7625},"y":{"datum":-62.5,"type":"quantitative","axis":null},"y2":{"datum":-66.93}}},
{"data":{"values":[{"t":"Diagramme des ensembles GEFS sur 384h : 41N 9.5E"}]},"mark":{"type":"text","fontWeight":"bold","fontSize":11.6},"encoding":{"x":{"datum":-0.5125,"type":"quantitative","axis":null},"y":{"datum":-63.79,"type":"quantitative","axis":null},"text":{"field":"t"}}},
{"data":{"values":[{"t":"Températures 850hPa et 500hPa (°C) , précipitations (mm)"}]},"mark":"text","encoding":{"x":{"datum":-0.5125,"type":"quantitative","axis":null},"y":{"datum":-65.93,"type":"quantitative","axis":null},"text":{"field":"t"}}},
{"data":{"values":[{"t":"Ensemble GEFS du 23/08/2026 - 00Z"}]},"mark":"text","encoding":{"x":{"datum":9.9875,"type":"quantitative","axis":null},"y":{"datum":-63.5,"type":"quantitative","axis":null},"text":{"field":"t"}}},
{"data":{"values":[{"t":"Copyright 2026 Meteociel.fr"}]},"mark":{"type":"text","fontWeight":"bold","fontSize":11.6},"encoding":{"x":{"datum":9.9875,"type":"quantitative","axis":null},"y":{"datum":-65.93,"type":"quantitative","axis":null},"text":{"field":"t"}}}
]},
{"layer":[
{"data":{"name":"members"},"mark":{"type":"rect"},"encoding":{"x":{"field":"m","type":"nominal","axis":null,"sort":null,"scale":{"type":"band","range":[349.5,679.5],"paddingInner":0.09,"paddingOuter":0}},"y":{"datum":-59.93,"type":"quantitative","axis":null},"y2":{"datum":-60.79},"color":{"field":"m","type":"nominal","legend":null}}},
{"data":{"name":"members"},"mark":{"type":"text","align":"center","fontSize":8},"encoding":{"x":{"field":"m","type":"nominal","axis":null,"sort":null},"y":{"datum":-59.07,"type":"quantitative","axis":null},"text":{"field":"m"}}}
]}
],
"resolve":{"scale":{"x":"independent"},"axis":{"x":"independent"}}
}
